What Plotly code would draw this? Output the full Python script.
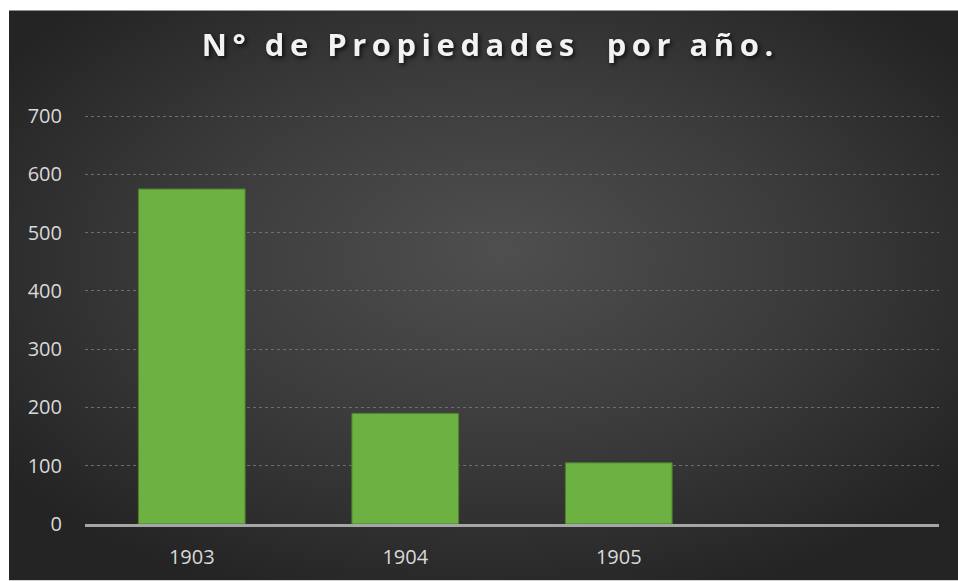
import base64
import plotly.graph_objects as go

years = ["1903", "1904", "1905"]
propiedades = [575, 190, 105]
y_ticks = [0, 100, 200, 300, 400, 500, 600, 700]
title_text = "N° de Propiedades  por año."

svg = (
    '<svg xmlns="http://www.w3.org/2000/svg" width="949" height="571" viewBox="0 0 949 571" preserveAspectRatio="none">'
    '<defs><radialGradient id="g" cx="50%" cy="45%" r="62%" fx="52%" fy="42%">'
    '<stop offset="0%" stop-color="#4f4f4f"/>'
    '<stop offset="55%" stop-color="#3a3a3a"/>'
    '<stop offset="100%" stop-color="#242424"/>'
    '</radialGradient></defs>'
    '<rect width="949" height="571" fill="url(#g)"/></svg>'
)
bg_uri = "data:image/svg+xml;base64," + base64.b64encode(svg.encode()).decode()

W, H = 958, 581
Y_MAX = 702
L, R, B = 85, 19, 56.5
T = 116 - (Y_MAX - 700) * (524.5 - 116) / 700
pw, ph = W - L - R, H - T - B

def px2paper_x(px):
    return (px - L) / pw

def px2paper_y(py):
    return (H - B - py) / ph

fig = go.Figure()
fig.add_trace(go.Bar(
    x=years, y=propiedades,
    marker=dict(color="#6cb142", line=dict(color="#4a7f2c", width=1)),
    width=0.5,
    hoverinfo="x+y",
))

fig.add_layout_image(dict(
    source=bg_uri, xref="paper", yref="paper",
    x=px2paper_x(9), y=px2paper_y(10),
    sizex=px2paper_x(958) - px2paper_x(9), sizey=px2paper_y(10) - px2paper_y(581),
    xanchor="left", yanchor="top", sizing="stretch", layer="below",
))

fig.add_annotation(text=title_text, xref="paper", yref="paper",
                   x=px2paper_x(490), y=px2paper_y(44), showarrow=False,
                   xanchor="center", yanchor="middle",
                   font=dict(family="Open Sans", size=31, color="#f2f2f2", weight="bold"))

fig.update_layout(
    width=W, height=H,
    margin=dict(l=L, r=R, t=T, b=B, pad=0),
    paper_bgcolor="white", plot_bgcolor="rgba(0,0,0,0)",
    showlegend=False,
    font=dict(family="Open Sans", color="#d9d9d9"),
)
fig.update_xaxes(
    type="category", range=[-0.5, 3.5],
    showgrid=False, showline=True, linecolor="#a6a6a6", linewidth=3,
    ticks="", tickfont=dict(size=20, color="#d9d9d9"), ticklabelstandoff=13,
    fixedrange=True,
)
fig.update_yaxes(
    range=[0, Y_MAX], tickvals=y_ticks,
    showgrid=True, gridcolor="#6e6e6e", gridwidth=1, griddash="dot",
    zeroline=False, showline=False, ticks="",
    tickfont=dict(size=20, color="#d9d9d9"), ticklabelstandoff=22,
    fixedrange=True,
)

post = (
    "document.body.style.margin='0';"
    "document.querySelectorAll('.annotation-text').forEach(function(e){"
    "e.style.letterSpacing='5.5px';"
    "e.style.filter='drop-shadow(2px 2px 2px rgba(0,0,0,0.7))';});"
)
fig.write_html("out.html", post_script=post, config={"displayModeBar": False})
